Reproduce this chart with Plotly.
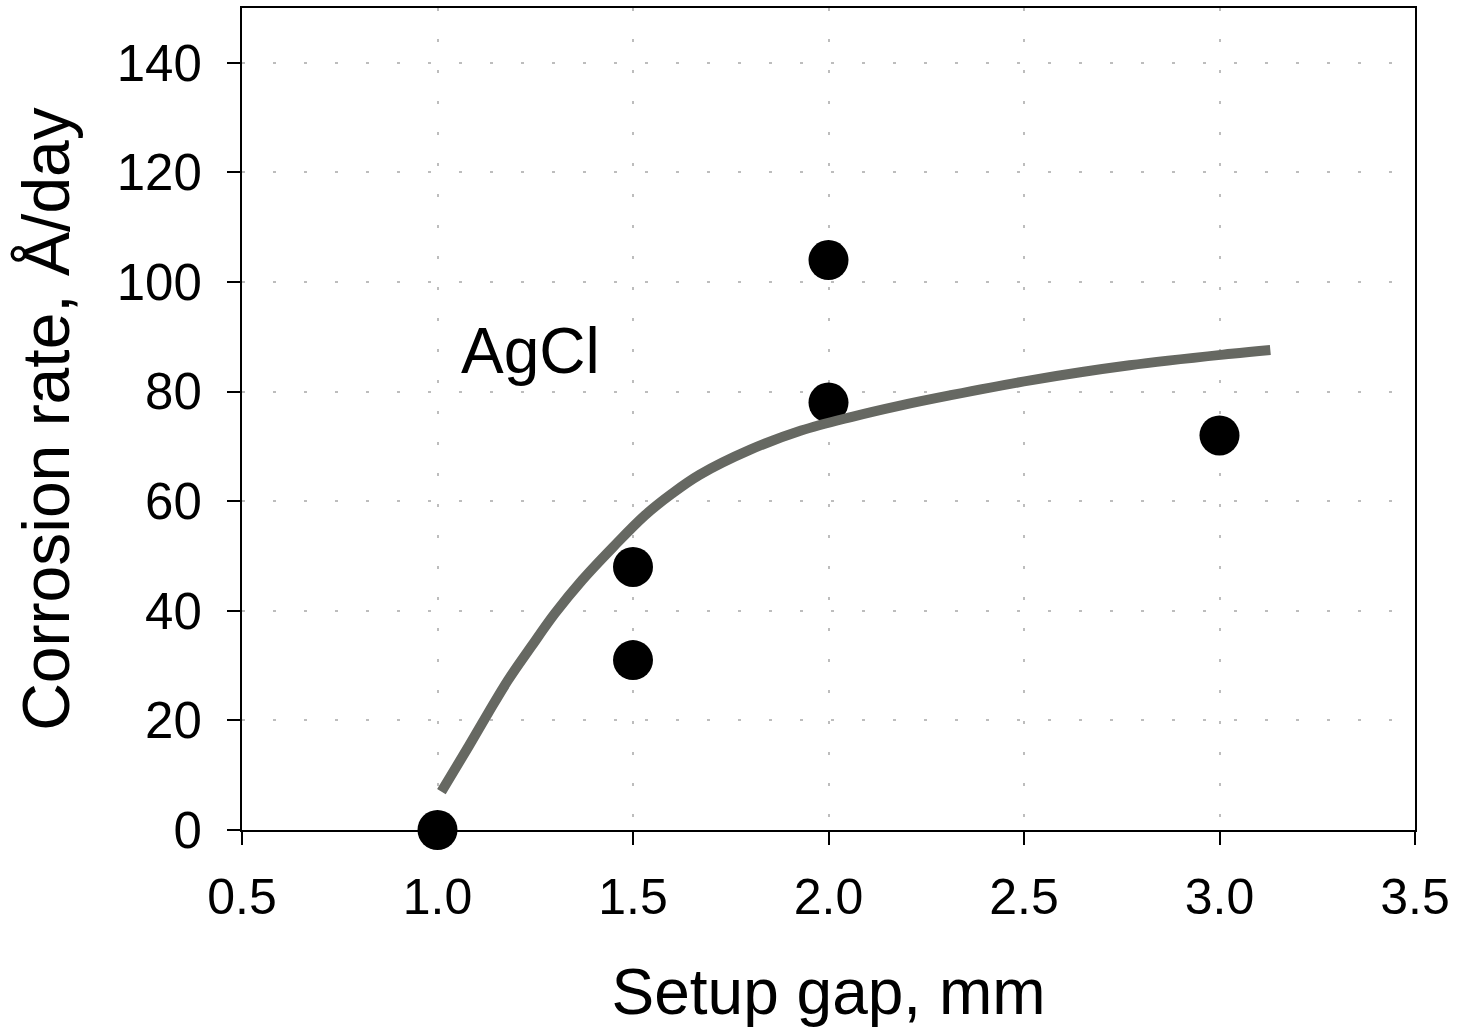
import plotly.graph_objects as go

# Measured corrosion rates
gap_mm = [1.0, 1.5, 1.5, 2.0, 2.0, 3.0]
rate_A_per_day = [0, 48, 31, 104, 78, 72]

# Trend curve through the measurements
trend_gap = [1.01, 1.08, 1.13, 1.18, 1.24, 1.30, 1.37, 1.45, 1.53, 1.60,
             1.67, 1.80, 1.93, 2.06, 2.18, 2.31, 2.52, 2.77, 3.03, 3.13]
trend_rate = [7.0, 15.3, 21.4, 27.3, 33.5, 39.5, 45.6, 51.7, 57.4, 61.4,
              64.8, 69.4, 72.9, 75.4, 77.4, 79.3, 82.1, 84.8, 86.9, 87.6]

x_ticks = [0.5, 1.0, 1.5, 2.0, 2.5, 3.0, 3.5]
x_tick_labels = ["0.5", "1.0", "1.5", "2.0", "2.5", "3.0", "3.5"]
y_ticks = [0, 20, 40, 60, 80, 100, 120, 140]

FONT = "Liberation Sans, Arial, sans-serif"

fig = go.Figure()

fig.add_trace(go.Scatter(
    x=gap_mm, y=rate_A_per_day, mode="markers",
    marker=dict(size=40, color="black", line=dict(width=0)),
    showlegend=False, cliponaxis=False,
))

fig.add_trace(go.Scatter(
    x=trend_gap, y=trend_rate, mode="lines",
    line=dict(color="#666862", width=10, shape="spline", smoothing=1.0),
    showlegend=False,
))

fig.add_annotation(
    x=1.056, y=87.5, xref="x", yref="y", text="AgCl", showarrow=False,
    xanchor="left", yanchor="middle",
    font=dict(family=FONT, size=64, color="black"),
)

grid = dict(showgrid=True, gridcolor="#bdbdbd", gridwidth=2, griddash="3px,28px")

fig.update_xaxes(
    range=[0.5, 3.5], tickvals=x_ticks, ticktext=x_tick_labels,
    ticks="outside", ticklen=13, tickwidth=2, tickcolor="black",
    showline=True, linewidth=2, linecolor="black", mirror=True,
    zeroline=False, ticklabelstandoff=9, automargin=False,
    tickfont=dict(family=FONT, size=50, color="black"),
    title=dict(text="Setup gap, mm", font=dict(family=FONT, size=64, color="black"), standoff=52),
    **grid,
)
fig.update_yaxes(
    range=[0, 150], tickvals=y_ticks,
    ticks="outside", ticklen=13, tickwidth=2, tickcolor="black",
    showline=True, linewidth=2, linecolor="black", mirror=True,
    zeroline=False, ticklabelstandoff=15, automargin=False,
    tickfont=dict(family=FONT, size=51, color="black"),
    title=dict(text="Corrosion rate, Å/day", font=dict(family=FONT, size=66, color="black"), standoff=26),
    **grid,
)

fig.update_layout(
    width=1478, height=1028,
    margin=dict(l=242, r=63, t=8, b=198),
    paper_bgcolor="white", plot_bgcolor="white",
    font=dict(family=FONT, color="black"),
)

fig.write_html("out.html", config={"displayModeBar": False})
